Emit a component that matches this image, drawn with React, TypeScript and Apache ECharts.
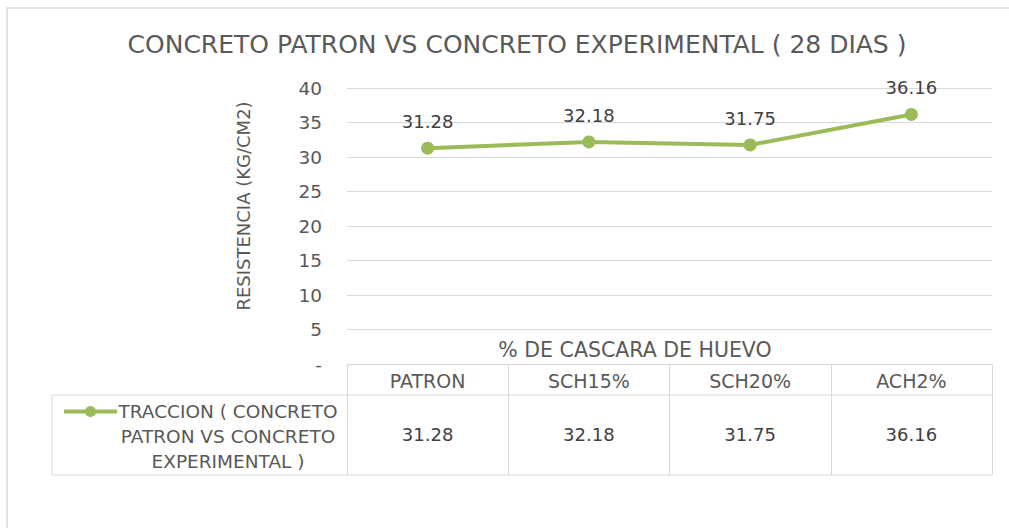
import React, { useEffect, useRef } from "react";
import * as echarts from "echarts";

const categories = ["PATRON", "SCH15%", "SCH20%", "ACH2%"];
const values = [31.28, 32.18, 31.75, 36.16];
const seriesName = "TRACCION ( CONCRETO\nPATRON VS CONCRETO\nEXPERIMENTAL )";
const titleText = "CONCRETO PATRON VS CONCRETO EXPERIMENTAL ( 28 DIAS )";
const yAxisName = "RESISTENCIA (KG/CM2)";
const xAxisName = "% DE CASCARA DE HUEVO";

const FONT = "DejaVu Sans";
const W = 1009;
const H = 528;
const GL = 347;
const GR = 992;
const GT = 88;
const GB = 364;
const ROW1 = 395;
const ROW2 = 475;
const TABLE_LEFT = 52;
const GRID_COLOR = "#D9D9D9";
const GREEN = "#9BBB59";

export default function App() {
  const ref = useRef<HTMLDivElement>(null);
  useEffect(() => {
    if (!ref.current) return;
    const chart = echarts.init(ref.current, null, { renderer: "svg" });
    chart.setOption({
      animation: false,
      backgroundColor: "#ffffff",
      textStyle: { fontFamily: FONT },
      title: {
        text: titleText,
        left: 512,
        textAlign: "center",
        top: 27,
        textStyle: { fontFamily: FONT, fontSize: 25, fontWeight: "normal", color: "#595959" },
      },
      grid: { left: GL, right: W - GR, top: GT, bottom: H - GB, containLabel: false },
      legend: {
        show: true,
        left: 57,
        top: 397,
        itemWidth: 53,
        itemHeight: 14,
        data: [seriesName],
        lineStyle: { width: 4 },
        formatter: (n: string) => n.split("\n").map((l) => "{a|" + l + "}").join("\n"),
        textStyle: {
          fontFamily: FONT,
          fontSize: 18.5,
          color: "#595959",
          padding: [50, 0, 0, 0],
          rich: { a: { width: 212, align: "center", fontSize: 18.5, lineHeight: 25, color: "#595959", fontFamily: FONT } },
        },
      },
      xAxis: [
        {
          type: "category",
          data: categories,
          boundaryGap: true,
          axisLine: { show: true, lineStyle: { color: GRID_COLOR, width: 1 } },
          axisTick: { show: true, alignWithLabel: false, length: ROW2 - GB, lineStyle: { color: GRID_COLOR, width: 1 } },
          axisLabel: { margin: 7, fontSize: 19, color: "#595959", fontFamily: FONT },
        },
        {
          type: "category",
          data: values.map((v) => v.toFixed(2)),
          position: "bottom",
          boundaryGap: true,
          axisLine: { show: false },
          axisTick: { show: false },
          axisLabel: { margin: 61, fontSize: 18, color: "#404040", fontFamily: FONT },
        },
      ],
      yAxis: {
        type: "value",
        min: 0,
        max: 40,
        interval: 5,
        axisLine: { show: false },
        axisTick: { show: false },
        splitLine: { lineStyle: { color: GRID_COLOR, width: 1 } },
        axisLabel: {
          margin: 25,
          fontSize: 18.5,
          color: "#595959",
          fontFamily: FONT,
          formatter: (v: number) => (v === 0 ? "-" : String(v)),
        },
        name: yAxisName,
        nameLocation: "middle",
        nameGap: 95,
        nameRotate: 90,
        nameTextStyle: { fontSize: 18, color: "#595959", fontFamily: FONT, padding: [0, 0, 0, 40] },
      },
      series: [
        {
          name: seriesName,
          type: "line",
          data: values,
          xAxisIndex: 0,
          color: GREEN,
          lineStyle: { width: 4, color: GREEN },
          itemStyle: { color: GREEN },
          symbol: "circle",
          symbolSize: 13,
          label: {
            show: true,
            position: "top",
            distance: 11,
            fontSize: 18,
            color: "#404040",
            fontFamily: FONT,
            formatter: (p: any) => Number(p.value).toFixed(2),
          },
        },
      ],
      graphic: [
        { type: "rect", shape: { x: 7, y: 8, width: W + 20, height: H + 20 }, style: { fill: "none", stroke: GRID_COLOR, lineWidth: 1.5 }, silent: true },
        { type: "line", shape: { x1: TABLE_LEFT, y1: ROW1, x2: GR, y2: ROW1 }, style: { stroke: GRID_COLOR, lineWidth: 1 }, silent: true },
        { type: "line", shape: { x1: TABLE_LEFT, y1: ROW2, x2: GR, y2: ROW2 }, style: { stroke: GRID_COLOR, lineWidth: 1 }, silent: true },
        { type: "line", shape: { x1: TABLE_LEFT, y1: ROW1, x2: TABLE_LEFT, y2: ROW2 }, style: { stroke: GRID_COLOR, lineWidth: 1 }, silent: true },
        {
          type: "text",
          x: 635,
          y: 350,
          silent: true,
          style: { text: xAxisName, fill: "#595959", font: `20.5px "${FONT}"`, align: "center", verticalAlign: "middle" },
        },
      ],
    });
    return () => chart.dispose();
  }, []);
  return <div ref={ref} style={{ position: "fixed", left: 0, top: 0, width: W, height: H }} />;
}
